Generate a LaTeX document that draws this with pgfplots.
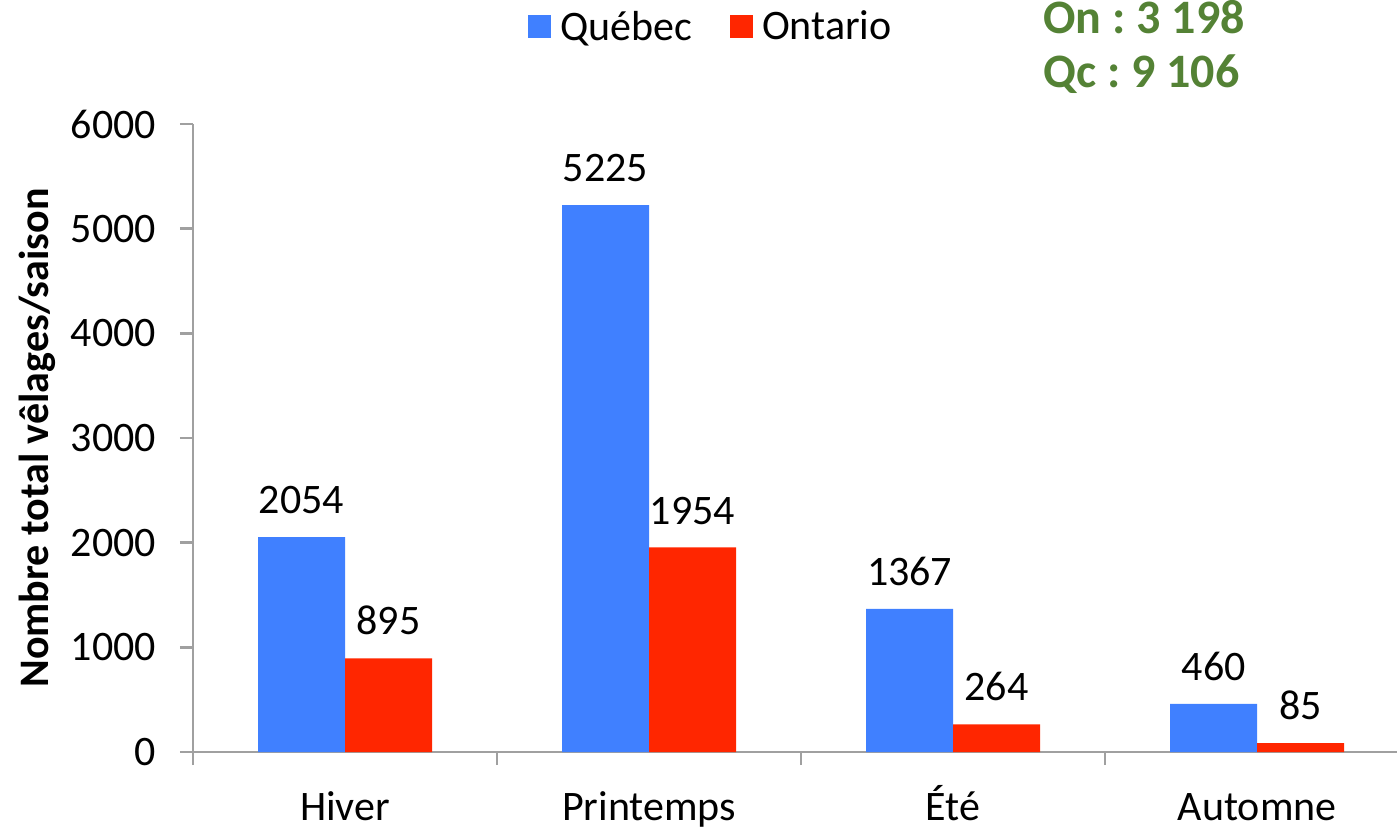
\documentclass[border=0pt]{standalone}
\usepackage{fontspec}
\setmainfont{Carlito}
\usepackage{pgfplots}
\pgfplotsset{compat=1.18}
\definecolor{qc}{RGB}{64,128,255}
\definecolor{on}{RGB}{255,38,0}
\definecolor{grn}{RGB}{84,130,53}
\definecolor{axgray}{RGB}{160,160,160}
\frenchspacing
\begin{document}
\begin{tikzpicture}
\begin{axis}[
  at={(0,0)}, anchor=south west,
  scale only axis, width=602pt, height=314pt,
  xmin=-0.5, xmax=3.46, ymin=0, ymax=6000,
  axis x line*=bottom, axis y line*=left,
  axis line style={axgray, line width=1.2pt, -},
  ybar=0pt, bar width=43.5pt,
  xtick={0,1,2,3}, xticklabels={Hiver,Printemps,Été,Automne},
  minor xtick={-0.5,0.5,1.5,2.5},
  ytick={0,1000,2000,3000,4000,5000,6000},
  tick align=outside, major tick length=6.5pt, minor tick length=6.5pt,
  tick style={axgray, line width=1.2pt},
  major x tick style={draw=none},
  tick label style={font=\fontsize{21}{25}\selectfont},
  xticklabel style={text height=14pt, yshift=-10pt},
  yticklabel style={xshift=-8.5pt},
  /pgf/number format/assume math mode=true,
  /pgf/number format/set thousands separator={},
  nodes near coords,
  every node near coord/.append style={font=\fontsize{21}{25}\selectfont, text=black, yshift=8pt},
  ylabel={Nombre total vêlages/saison},
  ylabel style={font=\bfseries\fontsize{21}{25}\selectfont, at={(axis description cs:-0.1296,0.5)}, anchor=center},
  legend columns=2,
  legend style={at={(0.4294,1.1545)}, anchor=center, draw=none, fill=none,
    font=\fontsize{21}{25}\selectfont, nodes={inner sep=0pt}, cells={anchor=west},
    /tikz/every even column/.append style={column sep=19pt},
    /tikz/every odd column/.append style={column sep=4.5pt}},
  legend image code/.code={\fill[#1] (0pt,-5.75pt) rectangle (11.5pt,5.75pt);},
]
\addplot[fill=qc, draw=none] coordinates {(0,2054) (1,5225) (2,1367) (3,460)};
\addplot[fill=on, draw=none] coordinates {(0,895) (1,1954) (2,264) (3,85)};
\legend{Québec, Ontario}
\end{axis}
\node[anchor=base west, text=grn, font=\bfseries\fontsize{24}{28}\selectfont, inner sep=0pt] at (425pt,359pt) {On : 3 198};
\node[anchor=base west, text=grn, font=\bfseries\fontsize{24}{28}\selectfont, inner sep=0pt] at (425pt,332pt) {Qc : 9 106};
\pgfresetboundingbox
\path (-96.5pt,-39pt) rectangle (602pt,376pt);
\end{tikzpicture}
\end{document}
